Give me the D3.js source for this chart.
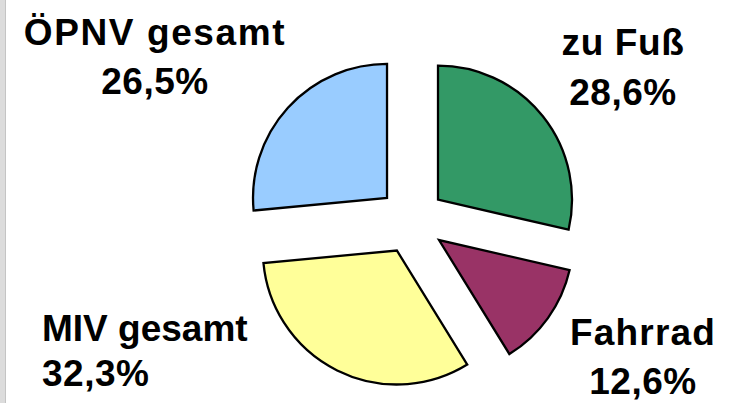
<!DOCTYPE html>
<html>
<head>
<meta charset="utf-8">
<script src="https://cdn.jsdelivr.net/npm/d3@7"></script>
<style>
  body { margin: 0; background: #fff; }
  svg { display: block; }
  text { font-family: "Liberation Sans", Arial, sans-serif; font-weight: bold; fill: #000; }
</style>
</head>
<body>
<script>
// modal split values (percent), clockwise from 12 o'clock
var categories = ["zu Fuß", "Fahrrad", "MIV gesamt", "ÖPNV gesamt"];
var values     = [28.6, 12.6, 32.3, 26.5];
var valueLabels = ["28,6%", "12,6%", "32,3%", "26,5%"];
var colors     = ["#339966", "#993366", "#FFFF99", "#99CCFF"];

var width = 729, height = 403;
var cx = 411.8, cy = 220.5, radius = 134, explode = 33.5;

var svg = d3.select("body").append("svg")
    .attr("width", width)
    .attr("height", height);

// grey frame edge on the left
svg.append("rect").attr("x", 0).attr("y", 0).attr("width", 5).attr("height", height).attr("fill", "#dcdcdc");
svg.append("line").attr("x1", 5.5).attr("x2", 5.5).attr("y1", 0).attr("y2", height)
  .attr("stroke", "#c4c4c4").attr("stroke-width", 1);

var pie = d3.pie().sort(null).startAngle(0).endAngle(2 * Math.PI);
var arcs = pie(values);
var arc = d3.arc().innerRadius(0).outerRadius(radius);

var g = svg.append("g").attr("transform", "translate(" + cx + "," + cy + ")");

g.selectAll("path")
  .data(arcs)
  .enter().append("path")
  .attr("d", arc)
  .attr("fill", function(d, i) { return colors[i]; })
  .attr("stroke", "#000")
  .attr("stroke-width", 2.3)
  .attr("stroke-linejoin", "miter")
  .attr("transform", function(d) {
    var mid = (d.startAngle + d.endAngle) / 2;
    return "translate(" + (explode * Math.sin(mid)) + "," + (-explode * Math.cos(mid)) + ")";
  });

// label layout (x, baseline of first line, anchor, line gap, letter spacing)
var labelLayout = [
  { x: 623, y: 55,  anchor: "middle", gap: 50, ls: 0.6 },
  { x: 643, y: 345, anchor: "middle", gap: 49, ls: 1.2 },
  { x: 42,  y: 341, anchor: "start",  gap: 45, ls: 0 },
  { x: 155, y: 45,  anchor: "middle", gap: 49, ls: 1.6 }
];

var labels = svg.selectAll("text.lbl")
  .data(arcs)
  .enter().append("text")
  .attr("class", "lbl")
  .attr("font-size", 37)
  .attr("text-anchor", function(d, i) { return labelLayout[i].anchor; })
  .attr("letter-spacing", function(d, i) { return labelLayout[i].ls; });

labels.append("tspan")
  .attr("x", function(d, i) { return labelLayout[i].x; })
  .attr("y", function(d, i) { return labelLayout[i].y; })
  .text(function(d, i) { return categories[i]; });

labels.append("tspan")
  .attr("x", function(d, i) { return labelLayout[i].x; })
  .attr("y", function(d, i) { return labelLayout[i].y + labelLayout[i].gap; })
  .attr("letter-spacing", 0.5)
  .text(function(d, i) { return valueLabels[i]; });
</script>
</body>
</html>
